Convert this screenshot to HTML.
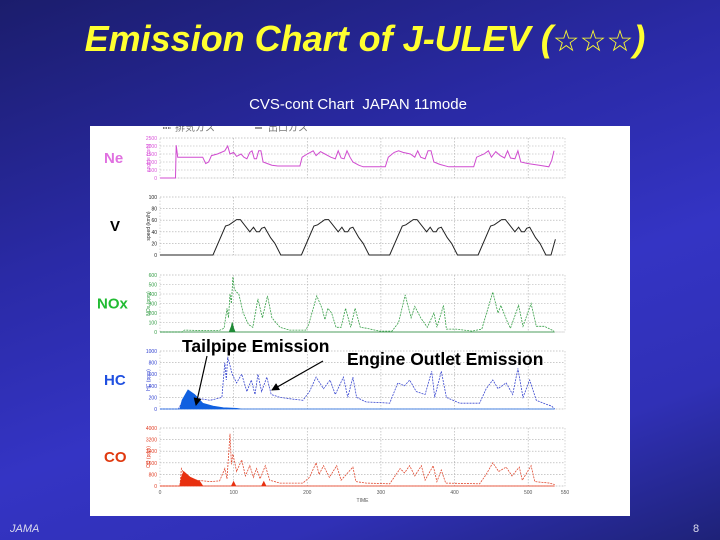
<!DOCTYPE html>
<html><head><meta charset="utf-8">
<style>
html,body{margin:0;padding:0;}
body{width:720px;height:540px;overflow:hidden;position:relative;font-family:"Liberation Sans","Noto Sans CJK JP",sans-serif;
background:linear-gradient(160deg,#1b1d6c 0%,#2a2aa6 35%,#3434c4 60%,#3030b6 80%,#1e2278 100%);}
#title{position:absolute;left:0;width:730px;top:18px;text-align:center;color:#ffff30;font-weight:bold;font-style:italic;font-size:36px;letter-spacing:0px;white-space:nowrap;}
#title .st{font-style:normal;font-weight:normal;font-family:"DejaVu Sans",sans-serif;font-size:30px;}
#subtitle{position:absolute;left:0;width:716px;top:96px;text-align:center;color:#fff;font-size:15px;}
#panel{position:absolute;left:90px;top:126px;width:540px;height:390px;background:#fff;}
#jama{position:absolute;left:10px;top:523px;color:#dde;font-style:italic;font-size:11px;}
#pnum{position:absolute;left:693px;top:523px;color:#dde;font-size:11px;}
svg{position:absolute;left:0;top:0;}
</style></head>
<body>
<div id="title">Emission Chart of J-ULEV (<span class="st">☆☆☆</span>)</div>
<div id="subtitle">CVS-cont Chart&nbsp; JAPAN 11mode</div>
<div id="panel"></div>
<div id="jama">JAMA</div>
<div id="pnum">8</div>
<svg id="chart" width="720" height="540"></svg>
<script>
const xTicks=[0,100,200,300,400,500];
const xEndLabel="550";
const neTicks=[0,500,1000,1500,2000,2500];
const vTicks=[0,20,40,60,80,100];
const noxTicks=[0,100,200,300,400,500,600];
const hcTicks=[0,200,400,600,800,1000];
const coTicks=[0,800,1600,2400,3200,4000];

const speedT=[0,72,89,94,104,109,122,127,131,135,138,142,150,156,164,192,209,214,224,229,242,247,251,255,258,262,270,276,284,312,329,334,344,349,362,367,371,375,378,382,390,396,404,432,449,454,464,469,482,487,491,495,498,502,510,516,524,531,537];
const speedV=[0,0,50,52,61,61,40,48,40,40,46,48,30,20,0,0,50,52,61,61,40,48,40,40,46,48,30,20,0,0,50,52,61,61,40,48,40,40,46,48,30,20,0,0,50,52,61,61,40,48,40,40,46,48,30,20,0,0,27];

const neT=[0,21,22,24,58,62,66,70,78,88,92,95,100,104,110,114,118,122,125,128,131,134,137,140,146,152,160,190,193,200,208,212,218,224,232,238,242,246,250,254,258,262,270,276,306,310,318,324,330,340,346,350,354,360,364,368,372,380,392,426,430,440,446,450,456,462,468,472,476,482,486,490,500,515,528,532,535];
const neV=[0,0,2050,1300,1300,900,1000,1400,1500,1700,2000,1500,1600,1350,1500,1300,1200,1600,1700,1200,1200,1700,1700,1000,900,800,750,750,1300,1500,1700,1400,1650,1500,1300,1200,1700,1250,1200,1700,1300,1000,800,700,700,1300,1600,1700,1600,1500,1300,1700,1300,1200,1700,1700,1000,850,700,700,1300,1500,1700,1300,1650,1400,1250,1700,1250,1200,1700,1000,900,800,700,1100,1700];

const noxT=[0,30,33,60,80,87,91,93,95,97,99,101,104,107,113,120,126,133,139,146,152,163,176,198,202,213,220,224,228,233,239,246,252,259,265,272,280,298,315,324,333,341,346,354,363,372,376,385,389,402,424,437,452,459,463,472,476,487,493,504,511,522,535];
const noxV=[0,0,20,15,15,40,250,150,400,300,580,450,420,400,200,80,50,350,150,380,150,50,20,20,80,380,250,130,250,200,50,50,250,50,250,50,40,10,10,100,390,150,270,150,50,200,50,280,30,30,10,30,420,200,280,100,40,280,60,300,60,60,10];
const noxTailT=[0,94,97,98,100,102,536];
const noxTailV=[0,0,60,100,40,0,0];

const hcT=[0,25,30,36,40,54,68,84,88,90,92,95,98,104,111,118,124,129,133,138,145,151,163,180,194,203,212,222,231,238,249,255,262,267,280,300,312,323,332,339,348,360,369,373,382,389,407,420,434,443,452,459,470,479,486,493,502,511,525,532,536];
const hcV=[0,0,120,250,220,180,150,200,800,500,900,750,600,450,600,300,500,250,600,300,550,250,200,170,150,300,550,350,500,250,550,200,550,200,120,110,100,450,400,500,300,250,650,200,650,200,100,100,100,350,500,350,450,250,700,200,500,150,80,50,0];
const hcTailT=[0,27,30,38,47,58,72,86,104,110,536];
const hcTailV=[0,0,150,330,250,100,50,20,10,0,0];

const coT=[0,27,29,35,50,68,81,88,91,95,97,99,104,111,116,122,127,131,136,143,149,163,194,203,212,216,222,230,240,246,262,266,280,312,326,332,339,346,355,360,371,376,382,388,434,443,452,460,470,478,488,492,504,509,529,536];
const coV=[0,0,1200,600,400,300,350,1200,500,3600,1500,2200,1000,1800,700,1400,600,1200,500,1400,400,200,200,600,1600,800,1400,600,1400,400,1300,300,200,150,1200,900,1400,700,1400,400,1400,300,1100,200,150,800,1600,1000,1300,700,1300,400,1400,300,200,100];
const coTailT=[0,27,29,32,41,50,54,58,97,100,103,138,141,144,536];
const coTailV=[0,0,600,1000,600,400,300,0,0,300,0,0,300,0,0];

const NS="http://www.w3.org/2000/svg";
const svg=document.getElementById('chart');
const X0=160,X1=565,XMAX=550;
function xs(t){return X0+(t/XMAX)*(X1-X0);}
function mk(tag,attrs,parent){const e=document.createElementNS(NS,tag);for(const k in attrs)e.setAttribute(k,attrs[k]);(parent||svg).appendChild(e);return e;}

const panels=[
 {key:'ne',top:138,bot:178,max:2500,ticks:neTicks,color:'#d850d8',label:'Ne',lcol:'#e070e0',ytitle:'engine (rpm)'},
 {key:'v',top:197,bot:255,max:100,ticks:vTicks,color:'#222',label:'V',lcol:'#000',ytitle:'speed (km/h)'},
 {key:'nox',top:275,bot:332,max:600,ticks:noxTicks,color:'#2e9a40',label:'NOx',lcol:'#22bb33',ytitle:'NOx (ppm)'},
 {key:'hc',top:351,bot:409,max:1000,ticks:hcTicks,color:'#3040d0',label:'HC',lcol:'#2050e0',ytitle:'HC (ppm)'},
 {key:'co',top:428,bot:486,max:4000,ticks:coTicks,color:'#e03a20',label:'CO',lcol:'#e03a10',ytitle:'CO (ppm)'}
];
function ys(p,v){return p.bot-(v/p.max)*(p.bot-p.top);}

const defs=mk('defs',{});
const cpth=mk('clipPath',{id:'panelclip'},defs);
mk('rect',{x:90,y:126,width:540,height:390},cpth);

// legend (clipped at panel top)
const lg=mk('g',{'clip-path':'url(#panelclip)'});


mk('line',{x1:163,y1:128,x2:171,y2:128,stroke:'#555','stroke-dasharray':'1.5,1','stroke-width':1.5},lg);
const lt1=mk('text',{x:175,y:131,'font-size':10,fill:'#777'},lg);lt1.textContent='排気ガス';
mk('line',{x1:255,y1:128,x2:262,y2:128,stroke:'#777','stroke-width':1.5},lg);
const lt2=mk('text',{x:268,y:131,'font-size':10,fill:'#777'},lg);lt2.textContent='出口ガス';

panels.forEach(p=>{
  const g=mk('g',{});
  
  
  p.ticks.forEach(v=>{
    const y=ys(p,v);
    const gl=mk('line',{x1:X0,x2:X1,y1:y,y2:y,stroke:'#aaa','stroke-width':0.6,'stroke-dasharray':'1.5,1.5'},g);
    
    const tl=mk('text',{x:X0-3,y:y+2,'font-size':5,fill:p.color,'text-anchor':'end'},g);
    
    tl.textContent=v;
  });
  xTicks.forEach(t=>{
    if(t===0)return;
    mk('line',{x1:xs(t),x2:xs(t),y1:p.top,y2:p.bot,stroke:'#aaa','stroke-width':0.6,'stroke-dasharray':'1.5,1.5'},g);
  });
  mk('rect',{x:X0,y:p.top,width:X1-X0,height:p.bot-p.top,fill:'none',stroke:'#bbb','stroke-width':0.6,'stroke-dasharray':'1.5,1.5'},g);
  const yt=mk('text',{x:0,y:0,'font-size':5,fill:p.color,'text-anchor':'middle',transform:`translate(150,${(p.top+p.bot)/2}) rotate(-90)`},g);
  
  yt.textContent=p.ytitle;
  const lb=mk('text',{x:p.label==='V'?110:(p.label==='NOx'?97:104),y:(p.top+p.bot)/2+5,'font-size':15,'font-weight':'bold',fill:p.lcol},g);
  
  lb.textContent=p.label;
  p.g=g;
});
function P(k){return panels.find(p=>p.key===k);}
function line(p,T,V,opts){
  const d=T.map((t,i)=>(i?'L':'M')+xs(t).toFixed(1)+','+ys(p,V[i]).toFixed(1)).join('');
  return mk('path',Object.assign({d:d,fill:'none'},opts),p.g);
}
function area(p,T,V,color){
  let d='M'+xs(T[0]).toFixed(1)+','+p.bot;
  T.forEach((t,i)=>{d+='L'+xs(t).toFixed(1)+','+ys(p,V[i]).toFixed(1);});
  d+='L'+xs(T[T.length-1]).toFixed(1)+','+p.bot+'Z';
  return mk('path',{d:d,fill:color,stroke:color,'stroke-width':0.8},p.g);
}
let e;
e=line(P('ne'),neT,neV,{stroke:'#d04cd0','stroke-width':1});


e=line(P('v'),speedT,speedV,{stroke:'#222','stroke-width':1});


e=line(P('nox'),noxT,noxV,{stroke:'#38a048','stroke-width':0.8,'stroke-dasharray':'2,1'});


e=area(P('nox'),noxTailT,noxTailV,'#1f8a36');


e=line(P('hc'),hcT,hcV,{stroke:'#3a48d0','stroke-width':0.8,'stroke-dasharray':'2,1'});


e=area(P('hc'),hcTailT,hcTailV,'#1060e0');


e=line(P('co'),coT,coV,{stroke:'#e04a30','stroke-width':0.8,'stroke-dasharray':'2,1'});


e=area(P('co'),coTailT,coTailV,'#e83010');



const cp=P('co');
xTicks.forEach(t=>{
  const tx=mk('text',{x:xs(t),y:cp.bot+8,'font-size':5,fill:'#555','text-anchor':'middle'});
  
  tx.textContent=t;
});
e=mk('text',{x:X1,y:cp.bot+8,'font-size':5,fill:'#555','text-anchor':'middle'});

e.textContent=xEndLabel;
e=mk('text',{x:(X0+X1)/2,y:cp.bot+16,'font-size':5,fill:'#555','text-anchor':'middle'});

e.textContent='TIME';

e=mk('text',{x:182,y:352,'font-size':17.5,'font-weight':'bold',fill:'#000'});

e.textContent='Tailpipe Emission';
e=mk('text',{x:347,y:365,'font-size':17.5,'font-weight':'bold',fill:'#000'});

e.textContent='Engine Outlet Emission';
const mkr=mk('marker',{id:'ah',markerWidth:8,markerHeight:8,refX:7,refY:4,orient:'auto',markerUnits:'userSpaceOnUse'},defs);
mk('path',{d:'M0,0L8,4L0,8Z',fill:'#000'},mkr);
e=mk('line',{x1:207,y1:356,x2:196,y2:405,stroke:'#000','stroke-width':1.2,'marker-end':'url(#ah)'});

e=mk('line',{x1:323,y1:361,x2:272,y2:390,stroke:'#000','stroke-width':1.2,'marker-end':'url(#ah)'});

</script>
</body></html>
